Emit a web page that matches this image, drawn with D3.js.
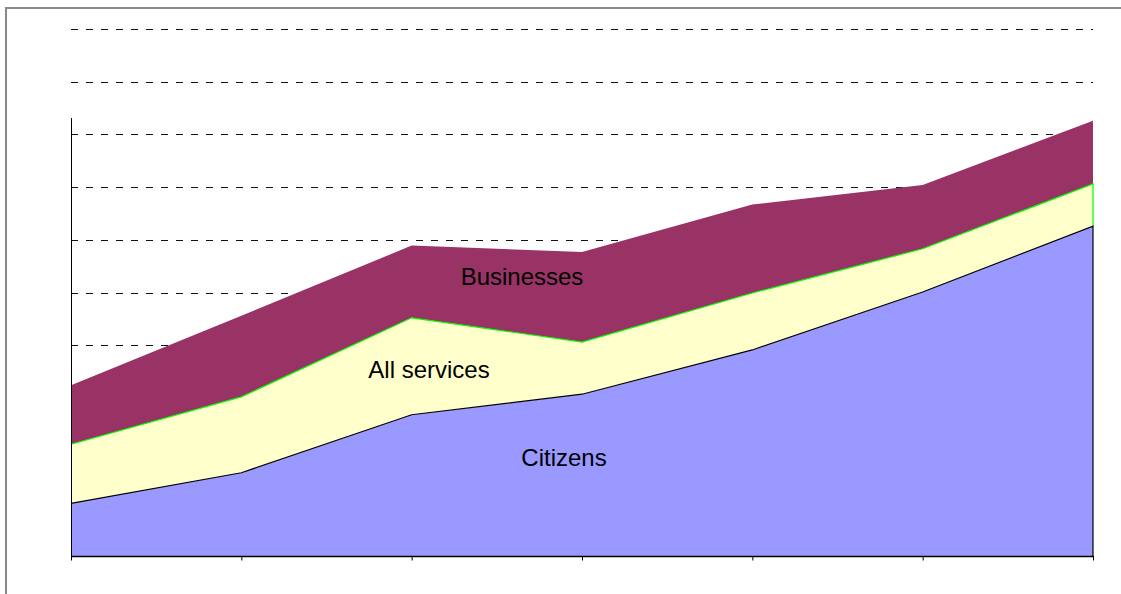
<!DOCTYPE html>
<html>
<head>
<meta charset="utf-8">
<script src="https://cdn.jsdelivr.net/npm/d3@7"></script>
<style>
  html, body { margin: 0; padding: 0; background: #fff; }
  svg { display: block; }
  text { font-family: "Liberation Sans", Arial, sans-serif; }
</style>
</head>
<body>
<svg id="chart" width="1121" height="594"></svg>
<script>
// ---- data ----
const categories = ["1", "2", "3", "4", "5", "6", "7"];
const seriesNames = ["Citizens", "All services", "Businesses"];
const citizens    = [1.00, 1.58, 2.68, 3.07, 3.91, 5.01, 6.26];
const allServices = [1.12, 1.44, 1.84, 0.99, 1.08, 0.82, 0.80];
const businesses  = [1.12, 1.54, 1.37, 1.71, 1.68, 1.21, 1.20];
const yTicks = [1, 2, 3, 4, 5, 6, 7, 8, 9, 10];

// ---- layout ----
const plotLeft = 71, plotRight = 1093, plotBottom = 556, plotTop = 29;
const axisTopValue = 8.31;
const colors = { "Citizens": "#9999FF", "All services": "#FFFFCC", "Businesses": "#993366" };

const svg = d3.select("#chart");

// outer frame
svg.append("rect")
  .attr("x", 6).attr("y", 8).attr("width", 1300).attr("height", 800)
  .attr("fill", "none").attr("stroke", "#888").attr("stroke-width", 2);

const x = d3.scalePoint().domain(categories).range([plotLeft, plotRight]);
const y = d3.scaleLinear().domain([0, 10]).range([plotBottom, plotTop]);

// gridlines (behind areas)
svg.append("g").selectAll("line").data(yTicks).join("line")
  .attr("x1", plotLeft).attr("x2", plotRight)
  .attr("y1", d => Math.round(y(d)) + 0.5).attr("y2", d => Math.round(y(d)) + 0.5)
  .attr("stroke", "#111").attr("stroke-width", 1)
  .attr("stroke-dasharray", "7,8");

// stacked data
const table = categories.map((c, i) => ({
  cat: c, "Citizens": citizens[i], "All services": allServices[i], "Businesses": businesses[i]
}));
const stacked = d3.stack().keys(seriesNames)(table);

const area = d3.area()
  .x(d => x(d.data.cat))
  .y0(d => y(d[0]))
  .y1(d => y(d[1]));

svg.append("g").selectAll("path").data(stacked).join("path")
  .attr("d", area)
  .attr("fill", d => colors[d.key]);

// top lines of the lower two series (with right edge)
function edgeLine(s, color) {
  const pts = s.map(d => [x(d.data.cat), y(d[1])]);
  const last = s[s.length - 1];
  pts.push([x(last.data.cat), y(last[0])]);
  svg.append("path")
    .attr("d", d3.line()(pts))
    .attr("fill", "none").attr("stroke", color).attr("stroke-width", 1.2);
}
edgeLine(stacked[1], "#00FF00");
edgeLine(stacked[0], "#000");

// axes
svg.append("line")
  .attr("x1", plotLeft + 0.5).attr("x2", plotLeft + 0.5)
  .attr("y1", y(axisTopValue)).attr("y2", plotBottom + 0.5)
  .attr("stroke", "#000").attr("stroke-width", 1);
const xAxis = d3.axisBottom(x).tickSize(4).tickFormat("");
svg.append("g")
  .attr("transform", `translate(0,${plotBottom + 0.5})`)
  .call(xAxis)
  .call(g => g.select(".domain").attr("d", `M${plotLeft},0H${plotRight + 1}`).attr("stroke", "#000").attr("stroke-width", 1.5))
  .call(g => g.selectAll(".tick line").attr("stroke", "#000"));

// series labels
const labels = [
  { text: "Businesses", x: 522, y: 285 },
  { text: "All services", x: 429, y: 378 },
  { text: "Citizens", x: 564, y: 466 }
];
svg.append("g").selectAll("text").data(labels).join("text")
  .attr("x", d => d.x).attr("y", d => d.y)
  .attr("text-anchor", "middle")
  .attr("font-size", 24)
  .attr("fill", "#000")
  .text(d => d.text);
</script>
</body>
</html>
